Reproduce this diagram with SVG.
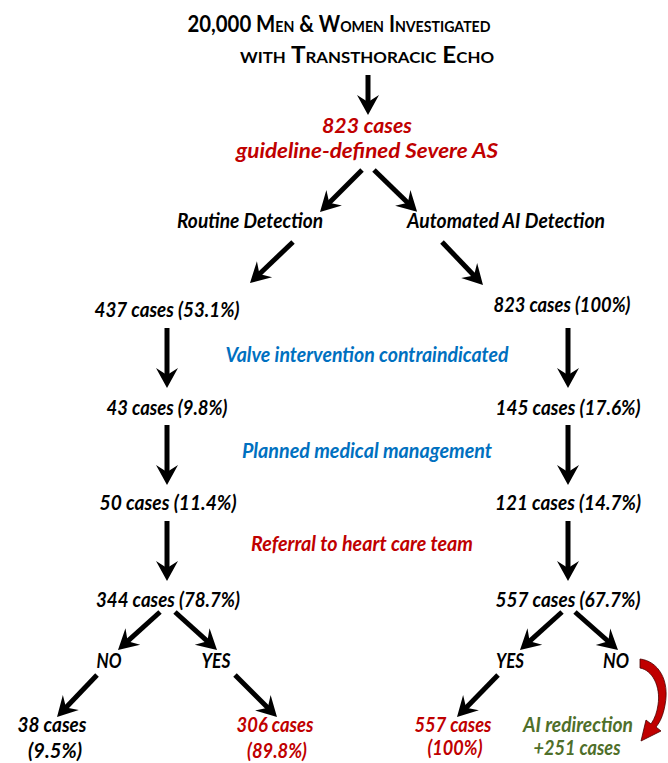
<svg xmlns="http://www.w3.org/2000/svg" width="668" height="763" viewBox="0 0 668 763">
<style>
  .t { font-family: Lato, "Open Sans", "Liberation Sans", sans-serif; font-weight: bold; font-style: italic; font-size: 20.5px; text-anchor: middle; fill: #000; }
  .title { font-family: Lato, "Open Sans", "Liberation Sans", sans-serif; font-weight: bold; font-size: 23px; font-variant: small-caps; text-anchor: middle; fill: #000; }
  .red { fill: #C00000; }
  .blue { fill: #0070C0; }
  .green { fill: #4F6F2A; }
  .arr { stroke: #000; stroke-width: 5; fill: none; marker-end: url(#ah); }
</style>
<defs>
  <marker id="ah" markerUnits="userSpaceOnUse" orient="auto" refX="0" refY="0" markerWidth="40" markerHeight="40" overflow="visible">
    <path d="M12,0 L-8,-11 L-1,0 L-8,11 Z" fill="#000"/>
  </marker>
</defs>
<rect width="668" height="763" fill="#fff"/>

<g id="title">
  <text class="title" x="339" y="32" textLength="303" lengthAdjust="spacingAndGlyphs">20,000 Men &amp; Women Investigated</text>
  <text class="title" x="367" y="63" textLength="254" lengthAdjust="spacingAndGlyphs">with Transthoracic Echo</text>
</g>
<g id="severe-as">
  <text class="t red" x="367" y="133" textLength="90" lengthAdjust="spacingAndGlyphs">823 cases</text>
  <text class="t red" x="367" y="158" textLength="262" lengthAdjust="spacingAndGlyphs">guideline-defined Severe AS</text>
</g>
<g id="routine"><text class="t" x="250" y="228" textLength="146" lengthAdjust="spacingAndGlyphs">Routine Detection</text></g>
<g id="automated"><text class="t" x="506" y="228" textLength="198" lengthAdjust="spacingAndGlyphs">Automated AI Detection</text></g>

<g id="l1"><text class="t" x="167" y="317" textLength="145" lengthAdjust="spacingAndGlyphs">437 cases (53.1%)</text></g>
<g id="r1"><text class="t" x="562" y="312" textLength="137" lengthAdjust="spacingAndGlyphs">823 cases (100%)</text></g>
<g id="lbl-valve"><text class="t blue" x="367" y="362" textLength="283" lengthAdjust="spacingAndGlyphs">Valve intervention contraindicated</text></g>
<g id="l2"><text class="t" x="167" y="415" textLength="121" lengthAdjust="spacingAndGlyphs">43 cases (9.8%)</text></g>
<g id="r2"><text class="t" x="568" y="415" textLength="145" lengthAdjust="spacingAndGlyphs">145 cases (17.6%)</text></g>
<g id="lbl-planned"><text class="t blue" x="367" y="458" textLength="250" lengthAdjust="spacingAndGlyphs">Planned medical management</text></g>
<g id="l3"><text class="t" x="168" y="510" textLength="137" lengthAdjust="spacingAndGlyphs">50 cases (11.4%)</text></g>
<g id="r3"><text class="t" x="568" y="510" textLength="146" lengthAdjust="spacingAndGlyphs">121 cases (14.7%)</text></g>
<g id="lbl-referral"><text class="t red" x="362" y="551" textLength="222" lengthAdjust="spacingAndGlyphs">Referral to heart care team</text></g>
<g id="l4"><text class="t" x="168" y="607" textLength="144" lengthAdjust="spacingAndGlyphs">344 cases (78.7%)</text></g>
<g id="r4"><text class="t" x="568" y="607" textLength="145" lengthAdjust="spacingAndGlyphs">557 cases (67.7%)</text></g>

<g id="l-no"><text class="t" x="109" y="668" textLength="25" lengthAdjust="spacingAndGlyphs">NO</text></g>
<g id="l-yes"><text class="t" x="216" y="668" textLength="29" lengthAdjust="spacingAndGlyphs">YES</text></g>
<g id="r-yes"><text class="t" x="510" y="668" textLength="28" lengthAdjust="spacingAndGlyphs">YES</text></g>
<g id="r-no"><text class="t" x="616" y="668" textLength="26" lengthAdjust="spacingAndGlyphs">NO</text></g>

<g id="l-no-out">
  <text class="t" x="52" y="732" textLength="69" lengthAdjust="spacingAndGlyphs">38 cases</text>
  <text class="t" x="55" y="758" textLength="54" lengthAdjust="spacingAndGlyphs">(9.5%)</text>
</g>
<g id="l-yes-out">
  <text class="t red" x="275" y="732" textLength="77" lengthAdjust="spacingAndGlyphs">306 cases</text>
  <text class="t red" x="277" y="758" textLength="60" lengthAdjust="spacingAndGlyphs">(89.8%)</text>
</g>
<g id="r-yes-out">
  <text class="t red" x="453" y="732" textLength="77" lengthAdjust="spacingAndGlyphs">557 cases</text>
  <text class="t red" x="455" y="755" textLength="55" lengthAdjust="spacingAndGlyphs">(100%)</text>
</g>
<g id="r-no-out">
  <text class="t green" x="578" y="732" textLength="110" lengthAdjust="spacingAndGlyphs">AI redirection</text>
  <text class="t green" x="577" y="755" textLength="87" lengthAdjust="spacingAndGlyphs">+251 cases</text>
</g>

<g id="connectors">
  <line class="arr" x1="368" y1="75" x2="368" y2="103"/>
  <line class="arr" x1="362" y1="170" x2="328.5" y2="203.5"/>
  <line class="arr" x1="374" y1="170" x2="408.5" y2="203.5"/>
  <line class="arr" x1="293" y1="242" x2="258.7" y2="274.7"/>
  <line class="arr" x1="442" y1="242" x2="474.7" y2="276.3"/>
  <line class="arr" x1="167" y1="328" x2="167" y2="376"/>
  <line class="arr" x1="167" y1="425" x2="167" y2="473"/>
  <line class="arr" x1="167" y1="521" x2="167" y2="569"/>
  <line class="arr" x1="568" y1="328" x2="568" y2="376"/>
  <line class="arr" x1="568" y1="425" x2="568" y2="473"/>
  <line class="arr" x1="568" y1="521" x2="568" y2="569"/>
  <line class="arr" x1="160" y1="612" x2="126.9" y2="641.9"/>
  <line class="arr" x1="175" y1="612" x2="208.1" y2="641.9"/>
  <line class="arr" x1="97" y1="675" x2="65.3" y2="708.3"/>
  <line class="arr" x1="235" y1="675" x2="268.5" y2="708.5"/>
  <line class="arr" x1="562" y1="612" x2="528.9" y2="641.9"/>
  <line class="arr" x1="575" y1="612" x2="609" y2="642"/>
  <line class="arr" x1="498" y1="675" x2="465.4" y2="708.4"/>
  <path d="M640,659 C658,661 670,680 665,705 C663,716 660,722 656,727 L661,731 L641,741 L646,720 L651,724 C655,718 657,712 658,705 C661,686 652,670 640,668 Z" fill="#C00000" stroke="#4a0000" stroke-width="0.8"/>
</g>
</svg>
